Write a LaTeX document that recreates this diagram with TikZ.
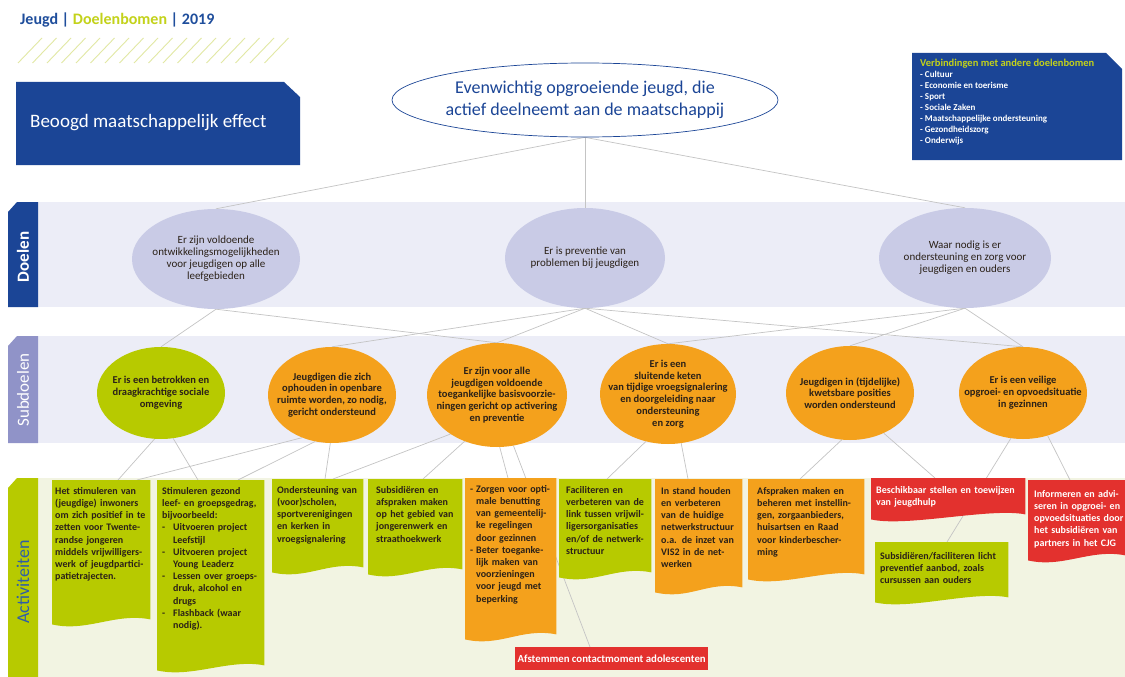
\documentclass[tikz,border=0pt]{standalone}
\usepackage{fontspec}
\setmainfont{Carlito}
\usetikzlibrary{shapes.geometric,calc}
\pgfdeclarelayer{bg}
\pgfdeclarelayer{fills}
\pgfsetlayers{bg,fills,main}
\definecolor{dblue}{HTML}{1B4596}
\definecolor{hblue}{HTML}{1F4E9C}
\definecolor{lav}{HTML}{C9CBE6}
\definecolor{bandc}{HTML}{ECEDF7}
\definecolor{peri}{HTML}{9093C8}
\definecolor{lime}{HTML}{B7CA00}
\definecolor{hlime}{HTML}{C3D21A}
\definecolor{orng}{HTML}{F4A11C}
\definecolor{redc}{HTML}{E3312E}
\definecolor{actband}{HTML}{F2F4E2}
\definecolor{conn}{HTML}{C4C4C4}
\definecolor{hatchc}{HTML}{E2E8A4}
\definecolor{txt}{HTML}{2B2118}
\definecolor{acttab}{HTML}{2E5DA8}
\newcommand\wavefill[2]{%
  \fill[#2] (#1.north west) -- (#1.north east) -- ($(#1.south east)+(0,-3)$)
   .. controls +(-35,-7) and +(35,8) .. ($(#1.south west)+(0,2)$) -- cycle;}
\tikzset{
  goal/.style={ellipse, fill=lav, inner sep=0pt, minimum height=100pt},
  goaltxt/.style={align=center, inner sep=0pt, font=\fontsize{11}{12}\selectfont, text=txt},
  sub/.style={ellipse, inner sep=0pt},
  subtxt/.style={align=center, inner sep=0pt, font=\fontsize{10.5}{11.8}\selectfont\bfseries, text=txt},
  actbox/.style={inner sep=0pt, anchor=north west},
  acttext/.style={anchor=north west, align=left, inner sep=0pt, font=\fontsize{10}{12.2}\selectfont\bfseries, text=txt},
  redtext/.style={acttext, text=white},
  link/.style={draw=conn, line width=0.7pt},
  tabtxt/.style={rotate=90, inner sep=0pt, text=white}
}
\begin{document}
\begin{tikzpicture}[x=1pt,y=-1pt]
\useasboundingbox (0,0) rectangle (1125,677);

% header
\node[anchor=base west, inner sep=0pt, font=\fontsize{16}{18}\selectfont\bfseries] (hdr) at (20,25)
  {\textcolor{hblue}{Jeugd |} \textcolor{hlime}{Doelenbomen} \textcolor{hblue}{| 2019}};
\foreach \i in {0,...,17} \draw[hatchc, line width=0.9pt] ({18+\i*14.5},63) -- ({42+\i*14.5},38);

% top boxes
\fill[dblue] (16,82) -- (284,82) -- (300,97) -- (300,165) -- (16,165) -- cycle;
\node[anchor=base west, inner sep=0pt, text=white, font=\fontsize{19}{21}\selectfont] (eff) at (30,127) {Beoogd maatschappelijk effect};
\fill[dblue] (912,53) -- (1106,53) -- (1122,69) -- (1122,160) -- (912,160) -- cycle;
\node[anchor=north west, inner sep=0pt, align=left, text=white, font=\fontsize{9}{11}\selectfont\bfseries] (verb) at (920,59)
  {\textcolor{hlime}{\fontsize{10.5}{11}\selectfont Verbindingen met andere doelenbomen}\\
   - Cultuur\\ - Economie en toerisme\\ - Sport\\ - Sociale Zaken\\
   - Maatschappelijke ondersteuning\\ - Gezondheidszorg\\ - Onderwijs};

\node[ellipse, draw=dblue, line width=0.7pt, fill=white, inner sep=0pt, minimum width=386pt, minimum height=74pt] (top) at (585,100) {};
\node[align=center, inner sep=0pt, text=dblue, font=\fontsize{18}{22}\selectfont] at (top) {Evenwichtig opgroeiende jeugd, die\\ actief deelneemt aan de maatschappij};

% bands and tabs
\begin{pgfonlayer}{bg}
\fill[white] (0,0) rectangle (1125,677);
\fill[bandc] (38,202) rectangle (1125,307);
\fill[bandc] (38,336) rectangle (1125,443);
\fill[actband] (38,478) rectangle (1125,677);
\fill[dblue] (8,212) -- (17,202) -- (38,202) -- (38,307) -- (8,307) -- cycle;
\fill[peri] (8,346) -- (17,336) -- (38,336) -- (38,443) -- (8,443) -- cycle;
\fill[lime] (8,488) -- (17,478) -- (38,478) -- (38,677) -- (8,677) -- cycle;
\end{pgfonlayer}
\node[tabtxt, font=\fontsize{17}{18}\selectfont\bfseries] (tD) at (23,257) {Doelen};
\node[tabtxt, font=\fontsize{17}{18}\selectfont] (tS) at (23,390) {Subdoelen};
\node[tabtxt, text=acttab, font=\fontsize{18}{18}\selectfont] (tA) at (23,582) {Activiteiten};

% goals
\node[goal, minimum width=168pt] (G1) at (216,259) {};
\node[goaltxt] at (G1) {Er zijn voldoende\\ ontwikkelingsmogelijkheden\\ voor jeugdigen op alle\\ leefgebieden};
\node[goal, minimum width=160pt] (G2) at (585,258) {};
\node[goaltxt] at (G2) {Er is preventie van\\ problemen bij jeugdigen};
\node[goal, minimum width=172pt] (G3) at (965,258) {};
\node[goaltxt] at (G3) {Waar nodig is er\\ ondersteuning en zorg voor\\ jeugdigen en ouders};

% subgoals
\node[sub, fill=lime, minimum width=128pt, minimum height=92pt] (S1) at (161,393) {};
\node[subtxt] at (S1) {Er is een betrokken en\\ draagkrachtige sociale\\ omgeving};
\node[sub, fill=orng, minimum width=128pt, minimum height=96pt] (S2) at (332,395) {};
\node[subtxt] at (S2) {Jeugdigen die zich\\ ophouden in openbare\\ ruimte worden, zo nodig,\\ gericht ondersteund};
\node[sub, fill=orng, minimum width=140pt, minimum height=104pt] (S3) at (497,395) {};
\node[subtxt] at (S3) {Er zijn voor alle\\ jeugdigen voldoende\\ toegankelijke basisvoorzie-\\ ningen gericht op activering\\ en preventie};
\node[sub, fill=orng, minimum width=136pt, minimum height=100pt] (S4) at (668,394) {};
\node[subtxt] at (S4) {Er is een\\ sluitende keten\\ van tijdige vroegsignalering\\ en doorgeleiding naar\\ ondersteuning\\ en zorg};
\node[sub, fill=orng, minimum width=128pt, minimum height=94pt] (S5) at (850,393) {};
\node[subtxt] at (S5) {Jeugdigen in (tijdelijke)\\ kwetsbare posities\\ worden ondersteund};
\node[sub, fill=orng, minimum width=128pt, minimum height=92pt] (S6) at (1023,393) {};
\node[subtxt] at (S6) {Er is een veilige\\ opgroei- en opvoedsituatie\\ in gezinnen};

% activity boxes
\node[actbox, minimum width=98pt, minimum height=142pt] (A1) at (52,480) {};
\node[actbox, minimum width=107pt, minimum height=188pt] (A2) at (157,480) {};
\node[actbox, minimum width=91pt, minimum height=91pt] (A3) at (272,479) {};
\node[actbox, minimum width=94pt, minimum height=93pt] (A4) at (368,479) {};
\node[actbox, minimum width=91pt, minimum height=159pt] (A5) at (465,478) {};
\node[actbox, minimum width=193pt, minimum height=23pt] (R1) at (515,647) {};
\node[actbox, minimum width=92pt, minimum height=96pt] (A6) at (559,479) {};
\node[actbox, minimum width=87pt, minimum height=111pt] (A7) at (655,479) {};
\node[actbox, minimum width=116pt, minimum height=98pt] (A8) at (748,479) {};
\node[actbox, minimum width=154pt, minimum height=39pt] (R2) at (871,478) {};
\node[actbox, minimum width=133pt, minimum height=58pt] (A9) at (875,542) {};
\node[actbox, minimum width=97pt, minimum height=78pt] (R3) at (1028,480) {};

\begin{pgfonlayer}{fills}
\wavefill{A1}{lime}
\wavefill{A2}{lime}
\wavefill{A3}{lime}
\wavefill{A4}{lime}
\wavefill{A5}{orng}
\fill[redc] (R1.north west) rectangle (R1.south east);
\wavefill{A6}{lime}
\wavefill{A7}{orng}
\wavefill{A8}{orng}
\wavefill{R2}{redc}
\wavefill{A9}{lime}
\wavefill{R3}{redc}
\end{pgfonlayer}

\node[acttext, text width=96pt] at ($(A1.north west)+(3,7)$)
 {Het stimuleren van\\ (jeugdige) inwoners\\ om zich positief in te\\ zetten voor Twente-\\ randse jongeren\\ middels vrijwilligers-\\ werk of jeugdpartici-\\ patietrajecten.};
\node[acttext, text width=104pt] at ($(A2.north west)+(5,7)$)
 {Stimuleren gezond\\ leef- en groepsgedrag,\\ bijvoorbeeld:\\
  \makebox[11pt][l]{-}Uitvoeren project\\ \hspace*{11pt}Leefstijl\\
  \makebox[11pt][l]{-}Uitvoeren project\\ \hspace*{11pt}Young Leaderz\\
  \makebox[11pt][l]{-}Lessen over groeps-\\ \hspace*{11pt}druk, alcohol en\\ \hspace*{11pt}drugs\\
  \makebox[11pt][l]{-}Flashback (waar\\ \hspace*{11pt}nodig).};
\node[acttext, text width=88pt] at ($(A3.north west)+(5,7)$)
 {Ondersteuning van\\ (voor)scholen,\\ sportverenigingen\\ en kerken in\\ vroegsignalering};
\node[acttext, text width=88pt] at ($(A4.north west)+(8,7)$)
 {Subsidiëren en\\ afspraken maken\\ op het gebied van\\ jongerenwerk en\\ straathoekwerk};
\node[acttext, text width=88pt] at ($(A5.north west)+(5,7)$)
 {\makebox[6pt][l]{-}Zorgen voor opti-\\ \hspace*{6pt}male benutting\\ \hspace*{6pt}van gemeentelij-\\ \hspace*{6pt}ke regelingen\\ \hspace*{6pt}door gezinnen\\
  \makebox[6pt][l]{-}Beter toeganke-\\ \hspace*{6pt}lijk maken van\\ \hspace*{6pt}voorzieningen\\ \hspace*{6pt}voor jeugd met\\ \hspace*{6pt}beperking};
\node[redtext, anchor=center, align=center, font=\fontsize{10.8}{12}\selectfont\bfseries] at (R1) {Afstemmen contactmoment adolescenten};
\node[acttext, text width=88pt] at ($(A6.north west)+(7,7)$)
 {Faciliteren en\\ verbeteren van de\\ link tussen vrijwil-\\ ligersorganisaties\\ en/of de netwerk-\\ structuur};
\node[acttext, text width=84pt] at ($(A7.north west)+(6,8)$)
 {In stand houden\\ en verbeteren\\ van de huidige\\ netwerkstructuur\\ o.a. de inzet van\\ VIS2 in de net-\\ werken};
\node[acttext, text width=110pt] at ($(A8.north west)+(9,8)$)
 {Afspraken maken en\\ beheren met instellin-\\ gen, zorgaanbieders,\\ huisartsen en Raad\\ voor kinderbescher-\\ ming};
\node[redtext, text width=150pt] at ($(R2.north west)+(5,8)$)
 {Beschikbaar stellen en toewijzen\\ van jeugdhulp};
\node[acttext, text width=128pt] at ($(A9.north west)+(5,10)$)
 {Subsidiëren/faciliteren licht\\ preventief aanbod, zoals\\ cursussen aan ouders};
\node[redtext, text width=94pt] at ($(R3.north west)+(6,10)$)
 {Informeren en advi-\\ seren in opgroei- en\\ opvoedsituaties door\\ het subsidiëren van\\ partners in het CJG};

% connectors
\begin{pgfonlayer}{bg}
\draw[link] (top.south) -- (G1.north);
\draw[link] (top.south) -- (G2.north);
\draw[link] (top.south) -- (G3.north);
\draw[link] (G1.south) -- (S1.north);
\draw[link] (G1.south) -- (S3.north);
\draw[link] (G2.south) -- (S2.north);
\draw[link] (G2.south) -- (S3.north);
\draw[link] (G2.south) -- (S4.north);
\draw[link] (G2.south) -- (S6.north);
\draw[link] (G3.south) -- (S4.north);
\draw[link] (G3.south) -- (S5.north);
\draw[link] (G3.south) -- (S6.north);
\draw[link] (S1.-98) -- ($(A1.north west)+(66,0)$);
\draw[link] (S1.-75) -- ($(A2.north west)+(41,0)$);
\draw[link] (S2.-125) -- ($(A1.north west)+(85,0)$);
\draw[link] (S2.-110) -- ($(A2.north west)+(81,0)$);
\draw[link] (S2.-92) -- ($(A3.north west)+(53,0)$);
\draw[link] (S3.-140) -- ($(A3.north west)+(61,0)$);
\draw[link] (S3.-125) -- ($(A4.north west)+(55,0)$);
\draw[link] (S3.-87) -- ($(A5.north west)+(43,0)$);
\draw[link] (S3.-72) -- ($(R1.north west)+(75,0)$);
\draw[link] (S4.-115) -- ($(A6.north west)+(48,0)$);
\draw[link] (S4.-75) -- ($(A7.north west)+(33,0)$);
\draw[link] (S5.-100) -- ($(A8.north west)+(52,0)$);
\draw[link] (S5.-50) -- ($(R2.north west)+(64,0)$);
\draw[link] (S6.-105) -- ($(A9.north west)+(72,0)$);
\draw[link] (S6.-60) -- ($(R3.north west)+(42,0)$);
\end{pgfonlayer}
\end{tikzpicture}
\end{document}
